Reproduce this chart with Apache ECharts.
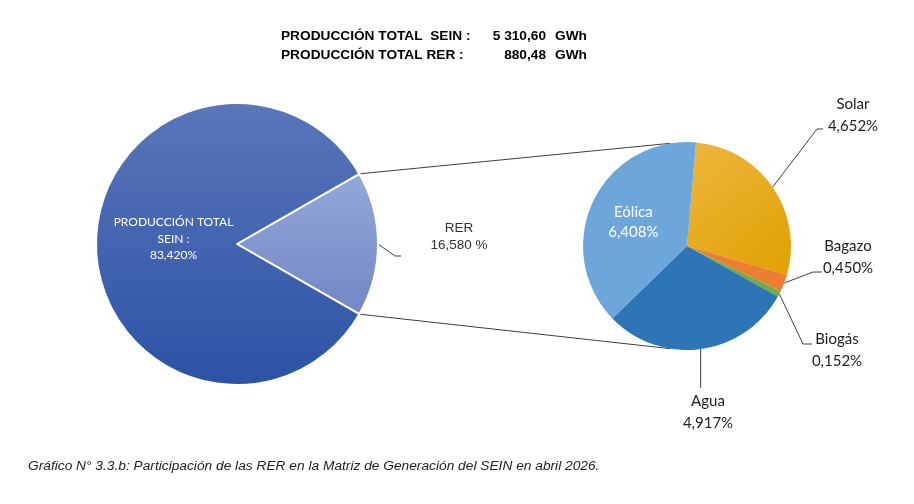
<!DOCTYPE html>
<html><head><meta charset="utf-8">
<script src="https://cdn.jsdelivr.net/npm/echarts@6/dist/echarts.min.js"></script>
<style>html,body{margin:0;padding:0;background:#fff}#c{width:914px;height:504px}</style>
</head><body><div id="c"></div>
<script>
// ---- data ----
const mainCategories = ['PRODUCCIÓN TOTAL SEIN', 'RER'];
const mainValues = [83.420, 16.580];
const rerCategories = ['Solar', 'Bagazo', 'Biogás', 'Agua', 'Eólica'];
const rerValues = [4.652, 0.450, 0.152, 4.917, 6.408];
const headerLabels = ['PRODUCCIÓN TOTAL  SEIN :', 'PRODUCCIÓN TOTAL RER :'];
const headerValues = ['5 310,60', '880,48'];
const headerUnit = 'GWh';
const caption = 'Gráfico N° 3.3.b: Participación de las RER en la Matriz de Generación del SEIN en abril 2026.';

// ---- layout ----
const L = { cx: 237, cy: 244, r: 141 };
const R = { cx: 687, cy: 246, r: 104, start: 85 };
const rerLabelPos = { x: 459, y: 237, line: [[395, 256], [401, 256]] };
const rightLabelPos = {
  'Solar':  { x: 853, y: 115, line: [[817, 129], [823, 129]] },
  'Bagazo': { x: 848, y: 257, line: [[813, 272], [822, 272]] },
  'Biogás': { x: 837, y: 350, line: [[803, 344], [812, 344]] },
  'Agua':   { x: 708, y: 412, line: [[null, 388]] }
};
const SX = 1.14; // horizontal stretch of the reference's Arial texts

function fmt(v, d) { return v.toFixed(d).replace('.', ','); }
const rad = Math.PI / 180;
function pt(c, ang, r) { return [c.cx + r * Math.cos(ang * rad), c.cy - r * Math.sin(ang * rad)]; }

const rerIdx = mainCategories.indexOf('RER');
const mainTotal = mainValues.reduce((a, b) => a + b, 0);
const rerHalf = mainValues[rerIdx] / mainTotal * 180;
const mainOrder = [rerIdx, 1 - rerIdx];

const rerTotal = rerValues.reduce((a, b) => a + b, 0);
const rerMid = {};
(function () {
  let a = R.start;
  rerCategories.forEach((n, i) => {
    const span = rerValues[i] / rerTotal * 360;
    rerMid[n] = a - span / 2;
    a -= span;
  });
})();

const lg = (c1, c2) => new echarts.graphic.LinearGradient(0, 0, 0, 1, [{ offset: 0, color: c1 }, { offset: 1, color: c2 }]);
const rerColors = {
  'Solar': new echarts.graphic.LinearGradient(0, 0, 1, 1, [{ offset: 0, color: '#ecb63e' }, { offset: 1, color: '#e0a100' }]),
  'Bagazo': '#ed7d31', 'Biogás': '#70ad47', 'Agua': '#2e75b6', 'Eólica': '#6ca6da'
};

const chart = echarts.init(document.getElementById('c'), null, { renderer: 'canvas' });

const mainData = mainOrder.map(i => {
  const name = mainCategories[i];
  const isRer = i === rerIdx;
  return {
    name, value: mainValues[i],
    itemStyle: { color: isRer ? lg('#95a8db', '#7286c4') : lg('#5b76ba', '#2b52a5'), borderColor: '#fff', borderWidth: 2 },
    label: isRer ? {
      position: 'outside', color: '#333', fontFamily: 'Liberation Sans', fontSize: 13.5, lineHeight: 17, align: 'center',
      formatter: p => p.name + '\n' + fmt(p.value, 3) + ' %'
    } : {
      position: 'inside', color: '#fff', fontFamily: 'Lato', fontSize: 12, lineHeight: 16.5, align: 'center',
      formatter: p => p.name.replace(' SEIN', '\nSEIN :') + '\n' + fmt(p.value, 3) + '%'
    },
    labelLine: { show: isRer }
  };
});

const rerData = rerCategories.map((n, i) => {
  const inside = !rightLabelPos[n];
  return {
    name: n, value: rerValues[i],
    itemStyle: { color: rerColors[n] },
    label: inside ? { position: 'inside', color: '#fff', fontFamily: 'Lato', fontSize: 15, lineHeight: 20 }
                  : { position: 'outside', color: '#222', fontFamily: 'Lato', fontSize: 15, lineHeight: 22, align: 'center' },
    labelLine: { show: !inside }
  };
});

const connectors = [];
[1, -1].forEach(s => {
  const a = pt(L, s * rerHalf, L.r);
  const b = pt(R, s * 99, R.r);
  connectors.push({ type: 'line', z: -1, shape: { x1: a[0], y1: a[1], x2: b[0], y2: b[1] }, style: { stroke: '#404040', lineWidth: 1 } });
});

const headerFont = 'bold 12px "Liberation Sans", Arial, sans-serif';
const graphics = connectors.slice();
headerLabels.forEach((t, i) => {
  const y = 37 + i * 19;
  graphics.push({ type: 'text', x: 281, y, scaleX: SX, style: { text: t, font: headerFont, fill: '#000', verticalAlign: 'middle' } });
  graphics.push({ type: 'text', x: 546, y, scaleX: SX, style: { text: headerValues[i], font: headerFont, fill: '#000', align: 'right', verticalAlign: 'middle' } });
  graphics.push({ type: 'text', x: 555, y, scaleX: SX, style: { text: headerUnit, font: headerFont, fill: '#000', verticalAlign: 'middle' } });
});
graphics.push({ type: 'text', x: 28, y: 467, scaleX: 1.145, style: { text: caption, font: 'italic 12px "Liberation Sans", Arial, sans-serif', fill: '#222', verticalAlign: 'middle' } });

chart.setOption({
  backgroundColor: '#fff',
  animation: false,
  graphic: graphics,
  series: [
    {
      type: 'pie', center: [L.cx, L.cy], radius: L.r, startAngle: rerHalf, clockwise: true,
      avoidLabelOverlap: false, data: mainData,
      labelLine: { lineStyle: { color: '#404040', width: 1 } },
      labelLayout: function (p) {
        const name = mainData[p.dataIndex].name;
        if (name === 'RER') {
          const s = pt(L, 0, L.r);
          return { x: rerLabelPos.x, y: rerLabelPos.y, align: 'center', verticalAlign: 'middle', labelLinePoints: [s].concat(rerLabelPos.line) };
        }
        return { dx: 10, dy: -5 };
      }
    },
    {
      type: 'pie', center: [R.cx, R.cy], radius: R.r, startAngle: R.start, clockwise: true,
      avoidLabelOverlap: false, data: rerData,
      label: { formatter: p => p.name + '\n' + fmt(p.value, 3) + '%' },
      labelLine: { lineStyle: { color: '#404040', width: 1 } },
      labelLayout: function (p) {
        const name = rerCategories[p.dataIndex];
        const lp = rightLabelPos[name];
        if (!lp) return { dx: -4, dy: 0 };
        const s = pt(R, rerMid[name], R.r);
        const line = lp.line.map(q => [q[0] == null ? s[0] : q[0], q[1]]);
        return { x: lp.x, y: lp.y, align: 'center', verticalAlign: 'middle', labelLinePoints: [s].concat(line) };
      }
    }
  ]
});
</script></body></html>
